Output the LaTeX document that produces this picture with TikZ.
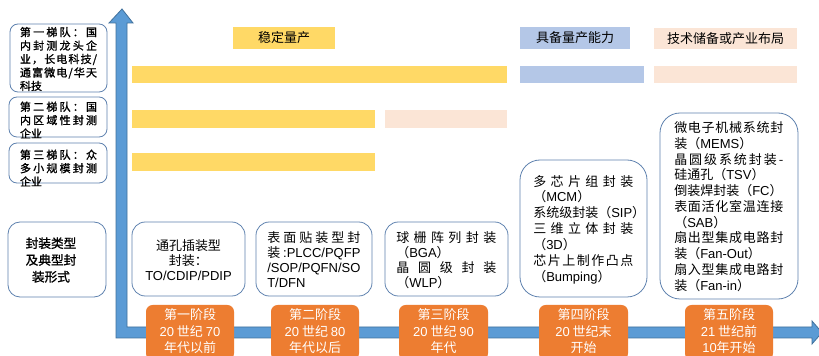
\documentclass[tikz,border=0pt]{standalone}
\usepackage{fontspec}
\setmainfont{Noto Sans CJK SC}
\newfontfamily\lat{Liberation Sans}
\newfontfamily\cjkb[FakeBold=1.2]{Noto Sans CJK SC}
\usetikzlibrary{fit}
\definecolor{cyellow}{HTML}{FFD966}
\definecolor{cblue}{HTML}{B4C7E7}
\definecolor{cpeach}{HTML}{FBE5D6}
\definecolor{corange}{HTML}{ED7D31}
\definecolor{carrow}{HTML}{5B9BD5}
\definecolor{carrowd}{HTML}{41719C}
\definecolor{cborder}{RGB}{95,130,175}
\makeatletter
\newcommand\spr[2]{\makebox[\dimexpr #1pt*3/4\relax][s]{\spr@loop#2\relax\unskip}}
\def\spr@loop#1{\ifx\relax#1\else#1\hfil\expandafter\spr@loop\fi}
\makeatother
\tikzset{
  bar/.style={fill=#1, draw=none, inner sep=0pt},
  lbltxt/.style={inner sep=0pt, font=\fontsize{9.75}{11}\selectfont},
  tierbox/.style={draw=cborder, line width=0.6pt, rounded corners=6pt, fill=white, inner sep=0pt},
  pbox/.style={draw=cborder, line width=0.6pt, rounded corners=#1, fill=white, inner sep=0pt},
  tiertxt/.style={inner sep=0pt, align=left, font=\cjkb\fontsize{8.25}{10.1}\selectfont},
  boxtxt/.style={inner sep=0pt, align=left, font=\fontsize{9.75}{#1}\selectfont},
  stagebox/.style={fill=corange, draw=none, rounded corners=5pt, inner sep=0pt},
  stagetxt/.style={inner sep=0pt, text=white, align=center, font=\fontsize{9.75}{12.4}\selectfont},
}
\begin{document}
\begin{tikzpicture}[x=0.75pt, y=-0.75pt]
\useasboundingbox (0,0) rectangle (819,356);
\clip (0,0) rectangle (819,356);
\fill[white] (0,0) rectangle (819,356);

% left tier boxes
\node (tier1) [tierbox, fit={(10,24) (107,92)}] {};
\node (tier1t) [tiertxt] at (58.5,59) {\spr{77}{第一梯队：国}\\\spr{77}{内封测龙头企}\\\spr{77}{业，长电科技/}\\\spr{77}{通富微电/华天}\\科技};
\node (tier2) [tierbox, fit={(9,97) (107,137)}] {};
\node (tier2t) [tiertxt] at (58.5,120) {\spr{77}{第二梯队：国}\\\spr{77}{内区域性封测}\\企业};
\node (tier3) [tierbox, fit={(9,143) (107,183)}] {};
\node (tier3t) [tiertxt] at (58.5,168) {\spr{77}{第三梯队：众}\\\spr{77}{多小规模封测}\\企业};

\node (ptype) [pbox=9pt, fit={(8,222) (106,297)}] {};
\node (ptypet) [inner sep=0pt, align=center, font=\cjkb\fontsize{9.5}{12.6}\selectfont] at (51,260) {封装类型\\及典型封\\装形式};

% top labels
\node (lab1) [bar=cyellow, fit={(233,27) (335,49)}] {};
\node (lab1t) [lbltxt] at (284,38) {稳定量产};
\node (lab2) [bar=cblue, fit={(520,27) (630,49)}] {};
\node (lab2t) [lbltxt] at (575,38) {具备量产能力};
\node (lab3) [bar=cpeach, fit={(654,28) (797,49)}] {};
\node (lab3t) [lbltxt] at (725.5,38.5) {技术储备或产业布局};

% bars
\node (r1a) [bar=cyellow, fit={(132,66) (507,83)}] {};
\node (r1b) [bar=cblue, fit={(520,66) (644,83)}] {};
\node (r1c) [bar=cpeach, fit={(654,66) (797,83)}] {};
\node (r2a) [bar=cyellow, fit={(132,110) (375,128)}] {};
\node (r2b) [bar=cpeach, fit={(385,110) (507,128)}] {};
\node (r3a) [bar=cyellow, fit={(132,153) (375,171)}] {};

% package boxes
\node (b1) [pbox=10pt, fit={(132,222) (245,296)}] {};
\node (b1t) [inner sep=0pt, align=center, font=\fontsize{9.75}{11.25}\selectfont] at (188.5,260) {通孔插装型\\封装：\\{\lat TO/CDIP/PDIP}};
\node (b2) [pbox=10pt, fit={(256,222) (372,296)}] {};
\node (b2t) [boxtxt=11.25, anchor=west] at (267,259.5) {\spr{93}{表面贴装型封}\\装 {\lat :PLCC/PQFP}\\{\lat /SOP/PQFN/SO}\\{\lat T/DFN}};
\node (b3) [pbox=10pt, fit={(385,222) (508,296)}] {};
\node (b3t) [boxtxt=11.25, anchor=west] at (396,260.5) {\spr{100}{球栅阵列封装}\\（{\lat BGA}）\\\spr{100}{晶圆级封装}\\（{\lat WLP}）};
\node (b4) [pbox=15pt, fit={(520,160) (647,297)}] {};
\node (b4t) [boxtxt=11.9, anchor=west] at (533,229.5) {\spr{100}{多芯片组封装}\\（{\lat MCM}）\\系统级封装（{\lat SIP}）\\\spr{100}{三维立体封装}\\（{\lat 3D}）\\\spr{100}{芯片上制作凸点}\\（{\lat Bumping}）};
\node (b5) [pbox=15pt, fit={(660,113) (798,299)}] {};
\node (b5t) [boxtxt=11.8, anchor=west] at (674,206.5) {\spr{109}{微电子机械系统封}\\装（{\lat MEMS}）\\\spr{109}{晶圆级系统封装-}\\硅通孔（{\lat TSV}）\\倒装焊封装（{\lat FC}）\\\spr{109}{表面活化室温连接}\\（{\lat SAB}）\\\spr{109}{扇出型集成电路封}\\装（{\lat Fan-Out}）\\\spr{109}{扇入型集成电路封}\\装（{\lat Fan-in}）};

% axes
\filldraw[fill=carrow, draw=carrowd, line width=0.6pt, line join=miter]
  (122,9) -- (133,23) -- (127,23) -- (127,327) -- (812,327) -- (812,321)
  -- (822,332.5) -- (812,344) -- (812,338) -- (116,338) -- (116,23) -- (109,23) -- cycle;

% stages
\node (s1) [stagebox, fit={(146,305) (234,360)}] {};
\node (s1t) [stagetxt] at (190,331.5) {第一阶段\\{\lat 20} 世纪 {\lat 70}\\年代以前};
\node (s2) [stagebox, fit={(271,305) (359,360)}] {};
\node (s2t) [stagetxt] at (315,331.5) {第二阶段\\{\lat 20} 世纪 {\lat 80}\\年代以后};
\node (s3) [stagebox, fit={(399,305) (488,360)}] {};
\node (s3t) [stagetxt] at (443.5,331.5) {第三阶段\\{\lat 20} 世纪 {\lat 90}\\年代};
\node (s4) [stagebox, fit={(539,305) (628,360)}] {};
\node (s4t) [stagetxt] at (583.5,331.5) {第四阶段\\{\lat 20} 世纪末\\开始};
\node (s5) [stagebox, fit={(685,305) (773,360)}] {};
\node (s5t) [stagetxt] at (729,331.5) {第五阶段\\{\lat 21} 世纪前\\{\lat 10}年开始};
\end{tikzpicture}
\end{document}
